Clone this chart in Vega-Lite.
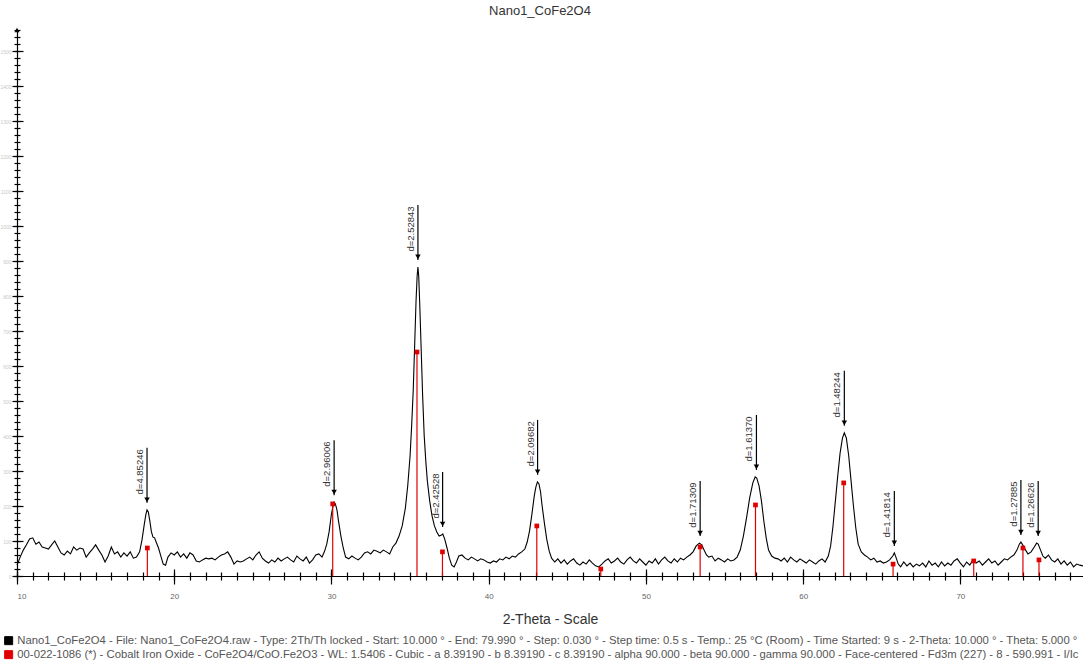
{
  "$schema": "https://vega.github.io/schema/vega-lite/v6.json",
  "width": 1066,
  "height": 546,
  "autosize": {"type": "none"},
  "padding": {"left": 17, "top": 30, "right": 0, "bottom": 85},
  "title": {"text": "Nano1_CoFe2O4", "font": "Liberation Sans", "fontSize": 13, "fontWeight": "normal", "color": "#333333", "offset": 10, "dx": -10},
  "config": {"view": {"stroke": null}, "axis": {"grid": false}},
  "datasets": {
    "scan": [
      {"two_theta": 10.00, "counts": 31}, {"two_theta": 10.20, "counts": 54}, {"two_theta": 10.40, "counts": 74}, {"two_theta": 10.60, "counts": 89}, {"two_theta": 10.80, "counts": 106},
      {"two_theta": 11.00, "counts": 109}, {"two_theta": 11.20, "counts": 91}, {"two_theta": 11.40, "counts": 97}, {"two_theta": 11.60, "counts": 83}, {"two_theta": 11.80, "counts": 80},
      {"two_theta": 12.00, "counts": 77}, {"two_theta": 12.20, "counts": 89}, {"two_theta": 12.40, "counts": 100}, {"two_theta": 12.60, "counts": 83}, {"two_theta": 12.80, "counts": 66},
      {"two_theta": 13.00, "counts": 60}, {"two_theta": 13.20, "counts": 71}, {"two_theta": 13.40, "counts": 63}, {"two_theta": 13.60, "counts": 83}, {"two_theta": 13.80, "counts": 74},
      {"two_theta": 14.00, "counts": 80}, {"two_theta": 14.20, "counts": 77}, {"two_theta": 14.40, "counts": 54}, {"two_theta": 14.60, "counts": 66}, {"two_theta": 14.80, "counts": 77},
      {"two_theta": 15.00, "counts": 89}, {"two_theta": 15.20, "counts": 74}, {"two_theta": 15.40, "counts": 60}, {"two_theta": 15.60, "counts": 40}, {"two_theta": 15.80, "counts": 57},
      {"two_theta": 16.00, "counts": 83}, {"two_theta": 16.20, "counts": 63}, {"two_theta": 16.40, "counts": 69}, {"two_theta": 16.60, "counts": 54}, {"two_theta": 16.80, "counts": 66},
      {"two_theta": 17.00, "counts": 57}, {"two_theta": 17.20, "counts": 69}, {"two_theta": 17.40, "counts": 51}, {"two_theta": 17.60, "counts": 54}, {"two_theta": 17.80, "counts": 69},
      {"two_theta": 17.95, "counts": 103}, {"two_theta": 18.10, "counts": 149}, {"two_theta": 18.20, "counts": 177}, {"two_theta": 18.27, "counts": 189}, {"two_theta": 18.35, "counts": 183},
      {"two_theta": 18.45, "counts": 157}, {"two_theta": 18.55, "counts": 126}, {"two_theta": 18.65, "counts": 111}, {"two_theta": 18.75, "counts": 109}, {"two_theta": 18.85, "counts": 97},
      {"two_theta": 19.00, "counts": 80}, {"two_theta": 19.15, "counts": 57}, {"two_theta": 19.30, "counts": 34}, {"two_theta": 19.45, "counts": 31}, {"two_theta": 19.60, "counts": 54},
      {"two_theta": 19.80, "counts": 66}, {"two_theta": 20.00, "counts": 60}, {"two_theta": 20.20, "counts": 69}, {"two_theta": 20.40, "counts": 54}, {"two_theta": 20.60, "counts": 63},
      {"two_theta": 20.80, "counts": 51}, {"two_theta": 21.00, "counts": 66}, {"two_theta": 21.20, "counts": 60}, {"two_theta": 21.40, "counts": 43}, {"two_theta": 21.60, "counts": 40},
      {"two_theta": 21.80, "counts": 46}, {"two_theta": 22.00, "counts": 51}, {"two_theta": 22.20, "counts": 49}, {"two_theta": 22.40, "counts": 51}, {"two_theta": 22.60, "counts": 46},
      {"two_theta": 22.80, "counts": 54}, {"two_theta": 23.00, "counts": 60}, {"two_theta": 23.20, "counts": 63}, {"two_theta": 23.40, "counts": 69}, {"two_theta": 23.60, "counts": 54},
      {"two_theta": 23.80, "counts": 34}, {"two_theta": 24.00, "counts": 43}, {"two_theta": 24.20, "counts": 40}, {"two_theta": 24.40, "counts": 43}, {"two_theta": 24.60, "counts": 49},
      {"two_theta": 24.80, "counts": 54}, {"two_theta": 25.00, "counts": 46}, {"two_theta": 25.20, "counts": 60}, {"two_theta": 25.40, "counts": 69}, {"two_theta": 25.60, "counts": 51},
      {"two_theta": 25.80, "counts": 43}, {"two_theta": 26.00, "counts": 37}, {"two_theta": 26.20, "counts": 46}, {"two_theta": 26.40, "counts": 40}, {"two_theta": 26.60, "counts": 51},
      {"two_theta": 26.80, "counts": 43}, {"two_theta": 27.00, "counts": 49}, {"two_theta": 27.20, "counts": 54}, {"two_theta": 27.40, "counts": 46}, {"two_theta": 27.60, "counts": 40},
      {"two_theta": 27.80, "counts": 57}, {"two_theta": 28.00, "counts": 49}, {"two_theta": 28.20, "counts": 43}, {"two_theta": 28.40, "counts": 54}, {"two_theta": 28.60, "counts": 37},
      {"two_theta": 28.80, "counts": 46}, {"two_theta": 29.00, "counts": 60}, {"two_theta": 29.20, "counts": 63}, {"two_theta": 29.40, "counts": 54}, {"two_theta": 29.55, "counts": 69},
      {"two_theta": 29.70, "counts": 91}, {"two_theta": 29.85, "counts": 126}, {"two_theta": 30.00, "counts": 177}, {"two_theta": 30.10, "counts": 200}, {"two_theta": 30.17, "counts": 211},
      {"two_theta": 30.25, "counts": 206}, {"two_theta": 30.35, "counts": 189}, {"two_theta": 30.45, "counts": 157}, {"two_theta": 30.60, "counts": 114}, {"two_theta": 30.75, "counts": 80},
      {"two_theta": 30.90, "counts": 54}, {"two_theta": 31.10, "counts": 49}, {"two_theta": 31.30, "counts": 57}, {"two_theta": 31.50, "counts": 51}, {"two_theta": 31.70, "counts": 46},
      {"two_theta": 31.90, "counts": 54}, {"two_theta": 32.10, "counts": 66}, {"two_theta": 32.30, "counts": 69}, {"two_theta": 32.50, "counts": 63}, {"two_theta": 32.70, "counts": 74},
      {"two_theta": 32.90, "counts": 71}, {"two_theta": 33.10, "counts": 66}, {"two_theta": 33.30, "counts": 74}, {"two_theta": 33.50, "counts": 69}, {"two_theta": 33.70, "counts": 63},
      {"two_theta": 33.90, "counts": 83}, {"two_theta": 34.10, "counts": 94}, {"two_theta": 34.30, "counts": 114}, {"two_theta": 34.50, "counts": 143}, {"two_theta": 34.70, "counts": 194},
      {"two_theta": 34.85, "counts": 257}, {"two_theta": 35.00, "counts": 343}, {"two_theta": 35.10, "counts": 429}, {"two_theta": 35.20, "counts": 529}, {"two_theta": 35.30, "counts": 671},
      {"two_theta": 35.38, "counts": 786}, {"two_theta": 35.45, "counts": 857}, {"two_theta": 35.50, "counts": 883}, {"two_theta": 35.55, "counts": 857}, {"two_theta": 35.62, "counts": 771},
      {"two_theta": 35.70, "counts": 657}, {"two_theta": 35.80, "counts": 514}, {"two_theta": 35.90, "counts": 400}, {"two_theta": 36.00, "counts": 329}, {"two_theta": 36.10, "counts": 271},
      {"two_theta": 36.25, "counts": 214}, {"two_theta": 36.40, "counts": 171}, {"two_theta": 36.55, "counts": 143}, {"two_theta": 36.70, "counts": 126}, {"two_theta": 36.85, "counts": 114},
      {"two_theta": 37.00, "counts": 117}, {"two_theta": 37.08, "counts": 120}, {"two_theta": 37.20, "counts": 106}, {"two_theta": 37.35, "counts": 80}, {"two_theta": 37.50, "counts": 51},
      {"two_theta": 37.65, "counts": 31}, {"two_theta": 37.80, "counts": 26}, {"two_theta": 37.95, "counts": 40}, {"two_theta": 38.10, "counts": 57}, {"two_theta": 38.30, "counts": 60},
      {"two_theta": 38.50, "counts": 51}, {"two_theta": 38.70, "counts": 46}, {"two_theta": 38.90, "counts": 54}, {"two_theta": 39.10, "counts": 49}, {"two_theta": 39.30, "counts": 43},
      {"two_theta": 39.50, "counts": 49}, {"two_theta": 39.70, "counts": 46}, {"two_theta": 39.90, "counts": 40}, {"two_theta": 40.10, "counts": 37}, {"two_theta": 40.30, "counts": 43},
      {"two_theta": 40.50, "counts": 40}, {"two_theta": 40.70, "counts": 49}, {"two_theta": 40.90, "counts": 46}, {"two_theta": 41.10, "counts": 54}, {"two_theta": 41.30, "counts": 49},
      {"two_theta": 41.50, "counts": 57}, {"two_theta": 41.70, "counts": 54}, {"two_theta": 41.90, "counts": 63}, {"two_theta": 42.10, "counts": 69}, {"two_theta": 42.30, "counts": 77},
      {"two_theta": 42.45, "counts": 97}, {"two_theta": 42.60, "counts": 129}, {"two_theta": 42.75, "counts": 177}, {"two_theta": 42.90, "counts": 229}, {"two_theta": 43.00, "counts": 254},
      {"two_theta": 43.10, "counts": 269}, {"two_theta": 43.20, "counts": 263}, {"two_theta": 43.30, "counts": 240}, {"two_theta": 43.40, "counts": 200}, {"two_theta": 43.55, "counts": 149},
      {"two_theta": 43.70, "counts": 103}, {"two_theta": 43.85, "counts": 71}, {"two_theta": 44.00, "counts": 51}, {"two_theta": 44.20, "counts": 40}, {"two_theta": 44.40, "counts": 49},
      {"two_theta": 44.60, "counts": 37}, {"two_theta": 44.80, "counts": 46}, {"two_theta": 45.00, "counts": 34}, {"two_theta": 45.20, "counts": 43}, {"two_theta": 45.40, "counts": 49},
      {"two_theta": 45.60, "counts": 37}, {"two_theta": 45.80, "counts": 31}, {"two_theta": 46.00, "counts": 40}, {"two_theta": 46.20, "counts": 34}, {"two_theta": 46.40, "counts": 46},
      {"two_theta": 46.60, "counts": 37}, {"two_theta": 46.80, "counts": 29}, {"two_theta": 47.00, "counts": 26}, {"two_theta": 47.20, "counts": 34}, {"two_theta": 47.40, "counts": 43},
      {"two_theta": 47.60, "counts": 49}, {"two_theta": 47.80, "counts": 37}, {"two_theta": 48.00, "counts": 43}, {"two_theta": 48.20, "counts": 51}, {"two_theta": 48.40, "counts": 40},
      {"two_theta": 48.60, "counts": 34}, {"two_theta": 48.80, "counts": 46}, {"two_theta": 49.00, "counts": 54}, {"two_theta": 49.20, "counts": 43}, {"two_theta": 49.40, "counts": 37},
      {"two_theta": 49.60, "counts": 49}, {"two_theta": 49.80, "counts": 40}, {"two_theta": 50.00, "counts": 31}, {"two_theta": 50.20, "counts": 43}, {"two_theta": 50.40, "counts": 37},
      {"two_theta": 50.60, "counts": 49}, {"two_theta": 50.80, "counts": 34}, {"two_theta": 51.00, "counts": 46}, {"two_theta": 51.20, "counts": 54}, {"two_theta": 51.40, "counts": 43},
      {"two_theta": 51.60, "counts": 37}, {"two_theta": 51.80, "counts": 49}, {"two_theta": 52.00, "counts": 40}, {"two_theta": 52.20, "counts": 51}, {"two_theta": 52.40, "counts": 46},
      {"two_theta": 52.60, "counts": 54}, {"two_theta": 52.80, "counts": 60}, {"two_theta": 53.00, "counts": 69}, {"two_theta": 53.20, "counts": 86}, {"two_theta": 53.40, "counts": 94},
      {"two_theta": 53.55, "counts": 89}, {"two_theta": 53.70, "counts": 74}, {"two_theta": 53.85, "counts": 60}, {"two_theta": 54.00, "counts": 54}, {"two_theta": 54.20, "counts": 57},
      {"two_theta": 54.40, "counts": 43}, {"two_theta": 54.60, "counts": 51}, {"two_theta": 54.80, "counts": 46}, {"two_theta": 55.00, "counts": 40}, {"two_theta": 55.20, "counts": 49},
      {"two_theta": 55.40, "counts": 43}, {"two_theta": 55.60, "counts": 46}, {"two_theta": 55.80, "counts": 54}, {"two_theta": 56.00, "counts": 74}, {"two_theta": 56.20, "counts": 114},
      {"two_theta": 56.40, "counts": 166}, {"two_theta": 56.60, "counts": 223}, {"two_theta": 56.80, "counts": 266}, {"two_theta": 56.95, "counts": 283}, {"two_theta": 57.05, "counts": 280},
      {"two_theta": 57.20, "counts": 257}, {"two_theta": 57.35, "counts": 214}, {"two_theta": 57.50, "counts": 157}, {"two_theta": 57.65, "counts": 109}, {"two_theta": 57.80, "counts": 74},
      {"two_theta": 58.00, "counts": 57}, {"two_theta": 58.20, "counts": 51}, {"two_theta": 58.40, "counts": 49}, {"two_theta": 58.60, "counts": 43}, {"two_theta": 58.80, "counts": 51},
      {"two_theta": 59.00, "counts": 40}, {"two_theta": 59.20, "counts": 54}, {"two_theta": 59.40, "counts": 46}, {"two_theta": 59.60, "counts": 40}, {"two_theta": 59.80, "counts": 49},
      {"two_theta": 60.00, "counts": 43}, {"two_theta": 60.20, "counts": 37}, {"two_theta": 60.40, "counts": 46}, {"two_theta": 60.60, "counts": 40}, {"two_theta": 60.80, "counts": 34},
      {"two_theta": 61.00, "counts": 43}, {"two_theta": 61.20, "counts": 49}, {"two_theta": 61.40, "counts": 40}, {"two_theta": 61.60, "counts": 57}, {"two_theta": 61.75, "counts": 86},
      {"two_theta": 61.90, "counts": 143}, {"two_theta": 62.05, "counts": 214}, {"two_theta": 62.20, "counts": 286}, {"two_theta": 62.35, "counts": 351}, {"two_theta": 62.50, "counts": 394},
      {"two_theta": 62.62, "counts": 409}, {"two_theta": 62.75, "counts": 394}, {"two_theta": 62.90, "counts": 343}, {"two_theta": 63.05, "counts": 271}, {"two_theta": 63.20, "counts": 200},
      {"two_theta": 63.35, "counts": 137}, {"two_theta": 63.50, "counts": 91}, {"two_theta": 63.70, "counts": 69}, {"two_theta": 63.90, "counts": 60}, {"two_theta": 64.10, "counts": 54},
      {"two_theta": 64.30, "counts": 46}, {"two_theta": 64.50, "counts": 51}, {"two_theta": 64.70, "counts": 40}, {"two_theta": 64.90, "counts": 43}, {"two_theta": 65.10, "counts": 37},
      {"two_theta": 65.30, "counts": 40}, {"two_theta": 65.50, "counts": 46}, {"two_theta": 65.70, "counts": 57}, {"two_theta": 65.80, "counts": 66}, {"two_theta": 65.90, "counts": 54},
      {"two_theta": 66.05, "counts": 34}, {"two_theta": 66.20, "counts": 26}, {"two_theta": 66.40, "counts": 40}, {"two_theta": 66.60, "counts": 29}, {"two_theta": 66.80, "counts": 37},
      {"two_theta": 67.00, "counts": 26}, {"two_theta": 67.20, "counts": 34}, {"two_theta": 67.40, "counts": 29}, {"two_theta": 67.60, "counts": 37}, {"two_theta": 67.80, "counts": 26},
      {"two_theta": 68.00, "counts": 43}, {"two_theta": 68.20, "counts": 31}, {"two_theta": 68.40, "counts": 37}, {"two_theta": 68.60, "counts": 26}, {"two_theta": 68.80, "counts": 40},
      {"two_theta": 69.00, "counts": 29}, {"two_theta": 69.20, "counts": 37}, {"two_theta": 69.40, "counts": 31}, {"two_theta": 69.60, "counts": 43}, {"two_theta": 69.80, "counts": 49},
      {"two_theta": 70.00, "counts": 37}, {"two_theta": 70.20, "counts": 26}, {"two_theta": 70.40, "counts": 40}, {"two_theta": 70.60, "counts": 31}, {"two_theta": 70.80, "counts": 46},
      {"two_theta": 71.00, "counts": 37}, {"two_theta": 71.20, "counts": 43}, {"two_theta": 71.40, "counts": 31}, {"two_theta": 71.60, "counts": 40}, {"two_theta": 71.80, "counts": 49},
      {"two_theta": 72.00, "counts": 37}, {"two_theta": 72.20, "counts": 43}, {"two_theta": 72.40, "counts": 31}, {"two_theta": 72.60, "counts": 40}, {"two_theta": 72.80, "counts": 49},
      {"two_theta": 73.00, "counts": 46}, {"two_theta": 73.20, "counts": 54}, {"two_theta": 73.40, "counts": 60}, {"two_theta": 73.60, "counts": 74}, {"two_theta": 73.75, "counts": 91},
      {"two_theta": 73.85, "counts": 97}, {"two_theta": 74.00, "counts": 86}, {"two_theta": 74.15, "counts": 74}, {"two_theta": 74.30, "counts": 63}, {"two_theta": 74.50, "counts": 69},
      {"two_theta": 74.70, "counts": 83}, {"two_theta": 74.85, "counts": 94}, {"two_theta": 74.95, "counts": 91}, {"two_theta": 75.10, "counts": 74}, {"two_theta": 75.25, "counts": 57},
      {"two_theta": 75.40, "counts": 51}, {"two_theta": 75.60, "counts": 60}, {"two_theta": 75.80, "counts": 46}, {"two_theta": 76.00, "counts": 40}, {"two_theta": 76.20, "counts": 49},
      {"two_theta": 76.40, "counts": 34}, {"two_theta": 76.60, "counts": 43}, {"two_theta": 76.80, "counts": 31}, {"two_theta": 77.00, "counts": 40}, {"two_theta": 77.20, "counts": 26},
      {"two_theta": 77.40, "counts": 34}, {"two_theta": 77.60, "counts": 31}, {"two_theta": 77.80, "counts": 29}
    ],
    "card": [
      {"two_theta": 18.29, "intensity": 80}, {"two_theta": 30.08, "intensity": 206}, {"two_theta": 35.44, "intensity": 640},
      {"two_theta": 37.06, "intensity": 69}, {"two_theta": 43.06, "intensity": 143}, {"two_theta": 47.13, "intensity": 20},
      {"two_theta": 53.45, "intensity": 83}, {"two_theta": 56.97, "intensity": 203}, {"two_theta": 62.58, "intensity": 266},
      {"two_theta": 65.72, "intensity": 34}, {"two_theta": 70.85, "intensity": 43}, {"two_theta": 73.98, "intensity": 80},
      {"two_theta": 75.00, "intensity": 46}
    ],
    "peaks": [
      {"two_theta": 18.27, "counts": 189, "label": "d=4.85246"},
      {"two_theta": 30.17, "counts": 211, "label": "d=2.96006"},
      {"two_theta": 35.50, "counts": 883, "label": "d=2.52843"},
      {"two_theta": 37.07, "counts": 120, "label": "d=2.42528"},
      {"two_theta": 43.11, "counts": 269, "label": "d=2.09682"},
      {"two_theta": 53.45, "counts": 94, "label": "d=1.71309"},
      {"two_theta": 57.03, "counts": 283, "label": "d=1.61370"},
      {"two_theta": 62.62, "counts": 409, "label": "d=1.48244"},
      {"two_theta": 65.80, "counts": 66, "label": "d=1.41814"},
      {"two_theta": 73.85, "counts": 97, "label": "d=1.27885"},
      {"two_theta": 74.95, "counts": 94, "label": "d=1.26626"}
    ]
  },
  "layer": [
    {
      "data": {"name": "scan"},
      "mark": {"type": "line", "strokeWidth": 1.1, "interpolate": "linear"},
      "encoding": {
        "x": {"field": "two_theta", "type": "quantitative", "scale": {"domain": [10, 77.8], "nice": false, "zero": false},
          "axis": {"orient": "bottom", "values": [10, 20, 30, 40, 50, 60, 70], "format": "d", "ticks": true, "tickSize": 8, "tickWidth": 1.2, "tickColor": "#000000", "grid": true, "gridColor": "#000000", "gridOpacity": 1, "gridWidth": 1.2, "gridDash": [0, 539, 7, 3000], "domainColor": "#000000", "domainWidth": 1.2, "labelFont": "Liberation Sans", "labelFontSize": 8, "labelColor": "#666666", "labelPadding": 8,
            "title": "2-Theta - Scale", "titleFont": "Liberation Sans", "titleFontSize": 14, "titleFontWeight": "normal", "titleColor": "#333333", "titlePadding": 12}},
        "y": {"field": "counts", "type": "quantitative", "scale": {"domain": [0, 1560], "nice": false},
          "axis": {"orient": "left", "values": [0, 100, 200, 300, 400, 500, 600, 700, 800, 900, 1000, 1100, 1200, 1300, 1400, 1500], "format": "d", "ticks": true, "tickSize": 5, "tickWidth": 1.2, "tickColor": "#000000", "grid": true, "gridColor": "#000000", "gridOpacity": 1, "gridWidth": 1.2, "gridDash": [6, 3000], "domainColor": "#000000", "domainWidth": 1.2, "labelFont": "Liberation Sans", "labelFontSize": 5, "labelColor": "#c8c8c8", "labelPadding": 1, "title": null}},
        "color": {"datum": "Nano1_CoFe2O4 - File: Nano1_CoFe2O4.raw - Type: 2Th/Th locked - Start: 10.000 ° - End: 79.990 ° - Step: 0.030 ° - Step time: 0.5 s - Temp.: 25 °C (Room) - Time Started: 9 s - 2-Theta: 10.000 ° - Theta: 5.000 °",
          "scale": {"domain": ["Nano1_CoFe2O4 - File: Nano1_CoFe2O4.raw - Type: 2Th/Th locked - Start: 10.000 ° - End: 79.990 ° - Step: 0.030 ° - Step time: 0.5 s - Temp.: 25 °C (Room) - Time Started: 9 s - 2-Theta: 10.000 ° - Theta: 5.000 °", "00-022-1086 (*) - Cobalt Iron Oxide - CoFe2O4/CoO.Fe2O3 - WL: 1.5406 - Cubic - a 8.39190 - b 8.39190 - c 8.39190 - alpha 90.000 - beta 90.000 - gamma 90.000 - Face-centered - Fd3m (227) - 8 - 590.991 - I/Ic"], "range": ["#000000", "#e00000"]},
          "legend": {"orient": "none", "legendX": -14, "legendY": 605, "direction": "vertical", "title": null, "symbolType": "square", "symbolSize": 64, "symbolStrokeWidth": 1, "labelFont": "Liberation Sans", "labelFontSize": 11.3, "labelColor": "#555555", "labelLimit": 1100, "rowPadding": 1, "labelOffset": 3, "padding": 0}}
      }
    },
    {
      "data": {"name": "card"},
      "mark": {"type": "rule", "strokeWidth": 1.2},
      "encoding": {
        "x": {"field": "two_theta", "type": "quantitative", "axis": {"orient": "bottom", "values": [10,11,12,13,14,15,16,17,18,19,20,21,22,23,24,25,26,27,28,29,30,31,32,33,34,35,36,37,38,39,40,41,42,43,44,45,46,47,48,49,50,51,52,53,54,55,56,57,58,59,60,61,62,63,64,65,66,67,68,69,70,71,72,73,74,75,76,77], "ticks": true, "tickSize": 4, "tickWidth": 1.2, "tickColor": "#000000", "grid": true, "gridColor": "#000000", "gridOpacity": 1, "gridWidth": 1.2, "gridDash": [0, 542, 4, 3000], "labels": false, "domain": false, "title": null}},
        "y": {"field": "intensity", "type": "quantitative", "axis": {"orient": "left", "values": [0,20,40,60,80,100,120,140,160,180,200,220,240,260,280,300,320,340,360,380,400,420,440,460,480,500,520,540,560,580,600,620,640,660,680,700,720,740,760,780,800,820,840,860,880,900,920,940,960,980,1000,1020,1040,1060,1080,1100,1120,1140,1160,1180,1200,1220,1240,1260,1280,1300,1320,1340,1360,1380,1400,1420,1440,1460,1480,1500,1520,1540,1560], "ticks": true, "tickSize": 3, "tickWidth": 1.2, "tickColor": "#000000", "grid": true, "gridColor": "#000000", "gridOpacity": 1, "gridWidth": 1.2, "gridDash": [3, 3000], "labels": false, "domain": false, "title": null}},
        "y2": {"datum": 0},
        "color": {"datum": "00-022-1086 (*) - Cobalt Iron Oxide - CoFe2O4/CoO.Fe2O3 - WL: 1.5406 - Cubic - a 8.39190 - b 8.39190 - c 8.39190 - alpha 90.000 - beta 90.000 - gamma 90.000 - Face-centered - Fd3m (227) - 8 - 590.991 - I/Ic"}
      }
    },
    {
      "data": {"name": "card"},
      "mark": {"type": "point", "shape": "square", "filled": true, "size": 22, "opacity": 1},
      "encoding": {
        "x": {"field": "two_theta", "type": "quantitative", "axis": null},
        "y": {"field": "intensity", "type": "quantitative", "axis": null},
        "color": {"datum": "00-022-1086 (*) - Cobalt Iron Oxide - CoFe2O4/CoO.Fe2O3 - WL: 1.5406 - Cubic - a 8.39190 - b 8.39190 - c 8.39190 - alpha 90.000 - beta 90.000 - gamma 90.000 - Face-centered - Fd3m (227) - 8 - 590.991 - I/Ic"}
      }
    },
    {
      "data": {"name": "peaks"},
      "mark": {"type": "rule", "color": "#000000", "strokeWidth": 1.2, "yOffset": -7, "y2Offset": -62},
      "encoding": {
        "x": {"field": "two_theta", "type": "quantitative", "axis": null},
        "y": {"field": "counts", "type": "quantitative", "axis": null},
        "y2": {"field": "counts"}
      }
    },
    {
      "data": {"name": "peaks"},
      "mark": {"type": "point", "shape": "triangle-down", "filled": true, "color": "#000000", "size": 30, "opacity": 1, "yOffset": -10},
      "encoding": {
        "x": {"field": "two_theta", "type": "quantitative", "axis": null},
        "y": {"field": "counts", "type": "quantitative", "axis": null}
      }
    },
    {
      "data": {"name": "peaks"},
      "mark": {"type": "text", "angle": 270, "align": "center", "baseline": "middle", "font": "Liberation Sans", "fontSize": 9.5, "color": "#333333", "xOffset": -7, "yOffset": -38},
      "encoding": {
        "x": {"field": "two_theta", "type": "quantitative", "axis": null},
        "y": {"field": "counts", "type": "quantitative", "axis": null},
        "text": {"field": "label"}
      }
    },
    {
      "data": {"values": [{"two_theta": 10, "counts": 1560}]},
      "mark": {"type": "point", "shape": "triangle-up", "filled": true, "color": "#000000", "size": 25, "opacity": 1},
      "encoding": {
        "x": {"field": "two_theta", "type": "quantitative", "axis": null},
        "y": {"field": "counts", "type": "quantitative", "axis": null}
      }
    }
  ],
  "resolve": {"axis": {"x": "independent", "y": "independent"}}
}
